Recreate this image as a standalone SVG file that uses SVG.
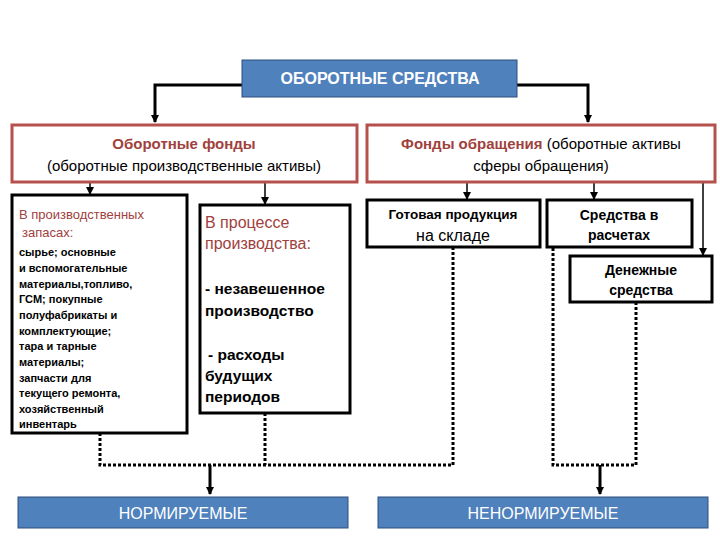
<svg xmlns="http://www.w3.org/2000/svg" width="720" height="540" viewBox="0 0 720 540">
<defs>
<marker id="ah" markerWidth="8" markerHeight="8" refX="7" refY="4" orient="auto" markerUnits="userSpaceOnUse"><path d="M0,0 L8,4 L0,8 z" fill="#000"/></marker>
<style>
.blue{fill:#4f81bd;stroke:#2f4f7a;stroke-width:1}
.red{fill:#fff;stroke:#b5504c;stroke-width:3}
.blk{fill:#fff;stroke:#000;stroke-width:3}
.t{font-family:"Liberation Sans",Arial,sans-serif;text-anchor:middle}
.w{fill:#fff}
.rt{fill:#a0413d}
.b{font-weight:bold}
.solid{stroke:#000;stroke-width:3;fill:none}
.thin{stroke:#000;stroke-width:1.5;fill:none}
.dot{stroke:#000;stroke-width:3;fill:none;stroke-dasharray:3 2}
</style>
</defs>
<rect width="720" height="540" fill="#fff"/>
<g id="connectors">
<path class="solid" d="M242,85 H155 V122" marker-end="url(#ah)"/>
<path class="solid" d="M517,85 H588 V122" marker-end="url(#ah)"/>
<path class="thin" d="M90,182 V194" marker-end="url(#ah)"/>
<path class="thin" d="M265,182 V204" marker-end="url(#ah)"/>
<path class="thin" d="M467,182 V199" marker-end="url(#ah)"/>
<path class="thin" d="M594,182 V199" marker-end="url(#ah)"/>
<path class="thin" d="M703,182 V255" marker-end="url(#ah)"/>
<path class="dot" d="M100,433 V465 H453 V248"/>
<path class="dot" d="M265,413 V465"/>
<path class="solid" d="M210,465 V494" marker-end="url(#ah)"/>
<path class="dot" d="M553,248 V465 H636 V303"/>
<path class="solid" d="M600,465 V494" marker-end="url(#ah)"/>
</g>
<g id="top"><rect class="blue" x="242" y="60" width="275" height="37"/><text class="t w" x="380" y="84" font-size="16" font-weight="bold">ОБОРОТНЫЕ СРЕДСТВА</text></g>
<g id="fondy"><rect class="red" x="12" y="125" width="345" height="57"/>
<text class="t rt b" x="184" y="149" font-size="15">Оборотные фонды</text>
<text class="t" x="184" y="171" font-size="15">(оборотные производственные активы)</text></g>
<g id="obr"><rect class="red" x="367" y="125" width="348" height="57"/>
<text class="t" x="541" y="149" font-size="15"><tspan class="rt b">Фонды обращения</tspan> (оборотные активы</text>
<text class="t" x="541" y="171" font-size="15">сферы обращения)</text></g>
<g id="zapasy"><rect class="blk" x="12" y="195" width="175" height="238"/>
<text font-family="Liberation Sans,Arial,sans-serif" font-size="13" class="rt"><tspan x="19" y="219">В производственных</tspan><tspan x="22" y="237">запасах:</tspan></text>
<text font-family="Liberation Sans,Arial,sans-serif" font-size="11" font-weight="bold"><tspan x="19" y="256">сырье; основные</tspan><tspan x="19" y="272">и вспомогательные</tspan><tspan x="19" y="288">материалы,топливо,</tspan><tspan x="19" y="303">ГСМ; покупные</tspan><tspan x="19" y="319">полуфабрикаты и</tspan><tspan x="19" y="335">комплектующие;</tspan><tspan x="19" y="350">тара и тарные</tspan><tspan x="19" y="366">материалы;</tspan><tspan x="19" y="382">запчасти для</tspan><tspan x="19" y="397">текущего ремонта,</tspan><tspan x="19" y="413">хозяйственный</tspan><tspan x="19" y="428">инвентарь</tspan></text></g>
<g id="process"><rect class="blk" x="200" y="205" width="150" height="208"/>
<text font-family="Liberation Sans,Arial,sans-serif" font-size="16" class="rt"><tspan x="205" y="228">В процессе</tspan><tspan x="205" y="249">производства:</tspan></text>
<text font-family="Liberation Sans,Arial,sans-serif" font-size="15.5" font-weight="bold"><tspan x="205" y="294">- незавешенное</tspan><tspan x="205" y="316">производство</tspan><tspan x="208" y="360">- расходы</tspan><tspan x="205" y="381">будущих</tspan><tspan x="205" y="402">периодов</tspan></text></g>
<g id="gotovaya"><rect class="blk" x="367" y="200" width="173" height="47"/>
<text class="t b" x="453" y="219" font-size="13.5">Готовая продукция</text><text class="t" x="453" y="241" font-size="16">на складе</text></g>
<g id="raschety"><rect class="blk" x="547" y="200" width="145" height="47"/>
<text class="t b" x="619" y="220" font-size="14">Средства в</text><text class="t b" x="619" y="240" font-size="14">расчетах</text></g>
<g id="dengi"><rect class="blk" x="570" y="256" width="142" height="46"/>
<text class="t b" x="641" y="275" font-size="14">Денежные</text><text class="t b" x="641" y="295" font-size="14">средства</text></g>
<g id="norm"><rect class="blue" x="18" y="497" width="330" height="31"/><text class="t w" x="183" y="519" font-size="16">НОРМИРУЕМЫЕ</text></g>
<g id="nenorm"><rect class="blue" x="378" y="497" width="330" height="31"/><text class="t w" x="543" y="519" font-size="16">НЕНОРМИРУЕМЫЕ</text></g>
</svg>
